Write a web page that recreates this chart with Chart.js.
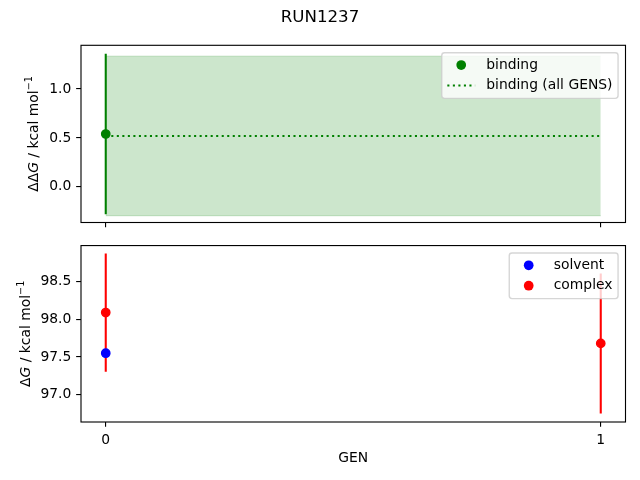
<!DOCTYPE html>
<html>
<head>
<meta charset="utf-8">
<script src="https://cdn.jsdelivr.net/npm/chart.js@4/dist/chart.umd.min.js"></script>
<style>
  html, body { margin: 0; padding: 0; background: #fff; overflow: hidden; }
  #wrap { position: relative; width: 640px; height: 480px; }
  canvas { position: absolute; left: 0; }
</style>
</head>
<body>
<div id="wrap">
  <canvas id="top" width="640" height="240" style="top:0"></canvas>
  <canvas id="bot" width="640" height="240" style="top:240px"></canvas>
</div>
<script>
// ---------------- data ----------------
const figTitle = 'RUN1237';
const xTickValues = [0, 1];
const xTitle = 'GEN';

const bindingGen = [0];
const bindingVal = [0.54];
const bindingErr = [0.82];
const bindingAllVal = 0.52;
const bindingAllErr = 0.815;
const bindingGenRange = [0, 1];

const solventGen = [0];
const solventVal = [97.55];

const complexGen = [0, 1];
const complexVal = [98.09, 97.68];
const complexErr = [0.785, 0.93];

const topTicks = [0.0, 0.5, 1.0];
const botTicks = [97.0, 97.5, 98.0, 98.5];
const topRange = [-0.364, 1.446];
const botRange = [96.636, 98.98];
const xRange = [-0.05, 1.05];

// ---------------- styles ----------------
const PT = 100 / 72;
const FS = 10 * PT;           // 13.9px
const FONT = 'DejaVu Sans';
const GREEN = '#008000', BLUE = '#0000ff', RED = '#ff0000';
const LW = 1.5 * PT;
const MR = 3 * PT;            // marker radius
const MB = 1.4;               // marker edge
Chart.defaults.font.family = FONT;
Chart.defaults.font.size = FS;
Chart.defaults.color = '#000';

function errSegments(xs, ys, es) {
  const out = [];
  xs.forEach((x, i) => {
    out.push({x: x, y: ys[i] - es[i]});
    out.push({x: x, y: ys[i] + es[i]});
    out.push({x: x, y: null});
  });
  return out;
}
function pts(xs, ys) { return xs.map((x, i) => ({x: x, y: ys[i]})); }

function drawLabel(ctx, bx, cy, parts) {
  ctx.save();
  ctx.translate(bx, cy);
  ctx.rotate(-Math.PI / 2);
  ctx.fillStyle = '#000';
  ctx.textBaseline = 'alphabetic';
  let total = 0;
  parts.forEach(p => {
    const size = p.sup ? FS * 0.7 : FS;
    ctx.font = (p.italic ? 'italic ' : '') + size + 'px "' + FONT + '"';
    p.w = ctx.measureText(p.t).width;
    total += p.w;
  });
  let x = -total / 2;
  parts.forEach(p => {
    const size = p.sup ? FS * 0.7 : FS;
    ctx.font = (p.italic ? 'italic ' : '') + size + 'px "' + FONT + '"';
    ctx.textAlign = 'left';
    ctx.fillText(p.t, x, p.sup ? -FS * 0.42 : 0);
    x += p.w;
  });
  ctx.restore();
}

function drawLegend(ctx, area, items) {
  ctx.save();
  ctx.font = FS + 'px "' + FONT + '"';
  let tw = 0;
  items.forEach(it => { tw = Math.max(tw, ctx.measureText(it.label).width); });
  const pad = 0.4 * FS, hl = 2.0 * FS, htp = 0.8 * FS, bap = 0.5 * FS;
  const w = pad * 2 + hl + htp + tw;
  const h = 45.6;
  const right = area.right - bap - 0.5;
  const left = right - w;
  const top = area.top + bap + 0.5;
  const r = 0.2 * FS;
  ctx.beginPath();
  ctx.moveTo(left + r, top);
  ctx.lineTo(right - r, top);
  ctx.quadraticCurveTo(right, top, right, top + r);
  ctx.lineTo(right, top + h - r);
  ctx.quadraticCurveTo(right, top + h, right - r, top + h);
  ctx.lineTo(left + r, top + h);
  ctx.quadraticCurveTo(left, top + h, left, top + h - r);
  ctx.lineTo(left, top + r);
  ctx.quadraticCurveTo(left, top, left + r, top);
  ctx.closePath();
  ctx.fillStyle = 'rgba(255,255,255,0.8)';
  ctx.fill();
  ctx.strokeStyle = 'rgba(204,204,204,0.8)';
  ctx.lineWidth = 1 * PT;
  ctx.stroke();
  items.forEach((it, i) => {
    const cy = top + 12.3 + i * 20.4;
    if (it.type === 'point') {
      ctx.beginPath();
      ctx.arc(left + pad + hl / 2, cy, MR + MB / 2, 0, Math.PI * 2);
      ctx.fillStyle = it.color;
      ctx.fill();
    } else {
      ctx.beginPath();
      ctx.setLineDash([1.5 * PT, 2.475 * PT]);
      ctx.moveTo(left + pad, cy);
      ctx.lineTo(left + pad + hl, cy);
      ctx.strokeStyle = it.color;
      ctx.lineWidth = LW;
      ctx.stroke();
      ctx.setLineDash([]);
    }
    ctx.fillStyle = '#000';
    ctx.textAlign = 'left';
    ctx.textBaseline = 'middle';
    ctx.fillText(it.label, left + pad + hl + htp, cy);
  });
  ctx.restore();
}

function makePlugin(opts) {
  return {
    id: 'decor_' + opts.name,
    afterDatasetsDraw(chart) {
      const ctx = chart.ctx, a = chart.chartArea;
      ctx.save();
      ctx.strokeStyle = '#000';
      ctx.lineWidth = 0.8 * PT;
      ctx.strokeRect(a.left, a.top, a.right - a.left, a.bottom - a.top);
      ctx.restore();
      drawLegend(ctx, a, opts.legend);
      drawLabel(ctx, opts.labelX, (a.top + a.bottom) / 2, opts.label);
      if (opts.title) {
        ctx.save();
        ctx.font = (12 * PT) + 'px "' + FONT + '"';
        ctx.fillStyle = '#000';
        ctx.textAlign = 'center';
        ctx.textBaseline = 'alphabetic';
        ctx.fillText(opts.title, chart.width / 2, 22);
        ctx.restore();
      }
    }
  };
}

function xScale(showLabels, height, withTitle) {
  return {
    type: 'linear', min: xRange[0], max: xRange[1],
    afterBuildTicks: s => { s.ticks = xTickValues.map(v => ({value: v})); },
    afterFit: s => { s.height = height; s.paddingLeft = 0; s.paddingRight = 0; },
    grid: { drawOnChartArea: false, drawTicks: true, tickLength: 3.5 * PT, color: '#000', lineWidth: 0.8 * PT },
    border: { display: false },
    ticks: { padding: 3.5 * PT, color: showLabels ? '#000' : 'rgba(0,0,0,0)', maxRotation: 0,
             callback: v => String(v) },
    title: withTitle ? { display: true, text: xTitle, color: '#000', font: {size: FS}, padding: {top: 4, bottom: 13} } : { display: false }
  };
}
function yScale(range, ticks) {
  return {
    type: 'linear', min: range[0], max: range[1],
    afterBuildTicks: s => { s.ticks = ticks.map(v => ({value: v})); },
    afterFit: s => { s.width = 81; s.paddingTop = 0; s.paddingBottom = 0; },
    grid: { drawOnChartArea: false, drawTicks: true, tickLength: 3.5 * PT, color: '#000', lineWidth: 0.8 * PT },
    border: { display: false },
    ticks: { padding: 3.5 * PT, color: '#000', callback: v => Number(v).toFixed(1) }
  };
}

const common = {
  responsive: false, animation: false, devicePixelRatio: 1,
  plugins: { legend: { display: false }, tooltip: { enabled: false }, title: { display: false } },
  events: []
};

// ---------------- top chart ----------------
const bandHi = bindingAllVal + bindingAllErr, bandLo = bindingAllVal - bindingAllErr;
new Chart(document.getElementById('top'), {
  type: 'scatter',
  data: { datasets: [
    { data: pts(bindingGen, bindingVal), backgroundColor: GREEN, borderColor: GREEN, borderWidth: MB, pointRadius: MR, order: 1 },
    { data: errSegments(bindingGen, bindingVal, bindingErr), showLine: true, spanGaps: false, borderColor: GREEN, borderWidth: LW, pointRadius: 0, order: 2 },
    { data: pts(bindingGenRange, bindingGenRange.map(() => bindingAllVal)), showLine: true, borderColor: GREEN, borderWidth: LW,
      borderDash: [1.5 * PT, 2.475 * PT], pointRadius: 0, order: 3 },
    { data: pts(bindingGenRange, bindingGenRange.map(() => bandHi)), showLine: true, fill: '+1', backgroundColor: 'rgba(0,128,0,0.2)',
      borderColor: 'rgba(0,128,0,0.2)', borderWidth: 1, pointRadius: 0, order: 4 },
    { data: pts(bindingGenRange, bindingGenRange.map(() => bandLo)), showLine: true, fill: false,
      borderColor: 'rgba(0,128,0,0.2)', borderWidth: 1, pointRadius: 0, order: 5 }
  ]},
  options: Object.assign({}, common, {
    layout: { padding: { top: 45.3, right: 14.5, left: 0, bottom: 0 } },
    scales: { x: xScale(false, 17.5, false), y: yScale(topRange, topTicks) }
  }),
  plugins: [makePlugin({
    name: 'top', title: figTitle, labelX: 38,
    label: [{t: 'ΔΔ'}, {t: 'G', italic: true}, {t: ' / kcal mol'}, {t: '−1', sup: true}],
    legend: [{label: 'binding', type: 'point', color: GREEN}, {label: 'binding (all GENS)', type: 'dotted', color: GREEN}]
  })]
});

// ---------------- bottom chart ----------------
new Chart(document.getElementById('bot'), {
  type: 'scatter',
  data: { datasets: [
    { data: pts(solventGen, solventVal), backgroundColor: BLUE, borderColor: BLUE, borderWidth: MB, pointRadius: MR, order: 1 },
    { data: pts(complexGen, complexVal), backgroundColor: RED, borderColor: RED, borderWidth: MB, pointRadius: MR, order: 2 },
    { data: errSegments(complexGen, complexVal, complexErr), showLine: true, spanGaps: false, borderColor: RED, borderWidth: LW, pointRadius: 0, order: 3 }
  ]},
  options: Object.assign({}, common, {
    layout: { padding: { top: 1.5, right: 14.5, left: 0, bottom: 0 } },
    scales: { x: xScale(true, 58, true), y: yScale(botRange, botTicks) }
  }),
  plugins: [makePlugin({
    name: 'bot', labelX: 29.5,
    label: [{t: 'Δ'}, {t: 'G', italic: true}, {t: ' / kcal mol'}, {t: '−1', sup: true}],
    legend: [{label: 'solvent', type: 'point', color: BLUE}, {label: 'complex', type: 'point', color: RED}]
  })]
});
</script>
</body>
</html>
